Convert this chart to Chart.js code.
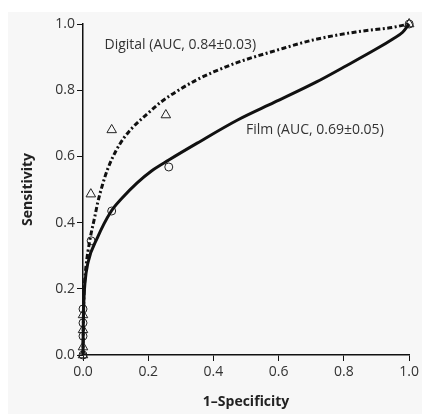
<!DOCTYPE html>
<html>
<head>
<meta charset="utf-8">
<script src="https://cdn.jsdelivr.net/npm/chart.js@4/dist/chart.umd.min.js"></script>
<style>
  html, body { margin: 0; padding: 0; background: #fff; }
  #box { position: absolute; left: 8px; top: 12px; width: 414px; height: 402px; background: #f7f7f7; }
</style>
</head>
<body>
<div id="box"><canvas id="chart" width="414" height="402"></canvas></div>
<script>
// fitted ROC curves
const digitalCurveX = [0, 0.002, 0.005, 0.009, 0.021, 0.036, 0.045, 0.06, 0.075, 0.1, 0.125, 0.15, 0.193, 0.24, 0.293, 0.35, 0.4, 0.474, 0.595, 0.707, 0.837, 0.95, 1];
const digitalCurveY = [0, 0.15, 0.22, 0.266, 0.347, 0.417, 0.46, 0.515, 0.56, 0.615, 0.655, 0.685, 0.725, 0.765, 0.80, 0.832, 0.855, 0.884, 0.921, 0.952, 0.976, 0.99, 1];
const filmCurveX = [0, 0.001, 0.003, 0.006, 0.015, 0.045, 0.085, 0.12, 0.166, 0.21, 0.263, 0.35, 0.474, 0.586, 0.716, 0.8, 0.9, 0.95, 0.98, 1];
const filmCurveY = [0, 0.1, 0.17, 0.218, 0.278, 0.356, 0.432, 0.474, 0.52, 0.556, 0.589, 0.64, 0.71, 0.763, 0.825, 0.87, 0.925, 0.955, 0.975, 1];

// observed operating points
const digitalPtsX = [0, 0, 0, 0, 0.024, 0.088, 0.254, 1];
const digitalPtsY = [0, 0.024, 0.076, 0.121, 0.486, 0.68, 0.725, 1];
const filmPtsX = [0, 0, 0, 0, 0.025, 0.088, 0.263, 1];
const filmPtsY = [0, 0.057, 0.097, 0.139, 0.345, 0.435, 0.568, 1];

const yTicks = [0, 0.2, 0.4, 0.6, 0.8, 1.0];
const xTicks = [0, 0.2, 0.4, 0.6, 0.8, 1.0];

const labels = [
  { text: "Digital (AUC, 0.84\u00b10.03)", x: 0.066, y: 0.937 },
  { text: "Film (AUC, 0.69\u00b10.05)", x: 0.5, y: 0.68 }
];

const zip = (xs, ys) => xs.map((x, i) => ({ x: x, y: ys[i] }));
const font = "'Open Sans', 'Noto Sans', sans-serif";
const ink = "#222";

const curveLabels = {
  id: "curveLabels",
  afterDatasetsDraw(chart) {
    const c = chart.ctx;
    const xs = chart.scales.x, ys = chart.scales.y;
    c.save();
    c.font = "14px " + font;
    c.fillStyle = "#333";
    c.textBaseline = "middle";
    labels.forEach(l => c.fillText(l.text, xs.getPixelForValue(l.x), ys.getPixelForValue(l.y)));
    c.restore();
  }
};

new Chart(document.getElementById("chart"), {
  type: "scatter",
  data: {
    datasets: [
      {
        data: zip(digitalCurveX, digitalCurveY),
        showLine: true, borderColor: "#111", borderWidth: 3,
        borderDash: [5, 2.5, 2, 2.5], pointRadius: 0,
        cubicInterpolationMode: "monotone", clip: false
      },
      {
        data: zip(filmCurveX, filmCurveY),
        showLine: true, borderColor: "#111", borderWidth: 3,
        pointRadius: 0, cubicInterpolationMode: "monotone", clip: false
      },
      {
        data: zip(digitalPtsX, digitalPtsY),
        pointStyle: "triangle", pointRadius: 5.5, borderColor: "#222",
        borderWidth: 1, backgroundColor: "rgba(0,0,0,0)", clip: false
      },
      {
        data: zip(filmPtsX, filmPtsY),
        pointStyle: "circle", pointRadius: 4, borderColor: "#222",
        borderWidth: 1, backgroundColor: "rgba(0,0,0,0)", clip: false
      }
    ]
  },
  options: {
    responsive: false,
    animation: false,
    layout: { padding: { left: 0, right: 8, top: 12, bottom: 0 } },
    plugins: { legend: { display: false }, tooltip: { enabled: false } },
    scales: {
      x: {
        min: 0, max: 1,
        afterBuildTicks: s => { s.ticks = xTicks.map(v => ({ value: v })); },
        afterFit: s => { s.height = 59; },
        border: { color: "#111", width: 1.5 },
        grid: { drawOnChartArea: false, drawTicks: true, tickLength: 6, color: "#111" },
        ticks: { color: "#333", font: { family: font, size: 14 }, padding: 3, callback: v => v.toFixed(1) },
        title: { display: true, text: "1\u2013Specificity", color: ink, font: { family: font, size: 14, weight: "bold" }, padding: { top: 3 } }
      },
      y: {
        min: 0, max: 1,
        afterBuildTicks: s => { s.ticks = yTicks.map(v => ({ value: v })); },
        afterFit: s => { s.width = 75; },
        border: { color: "#111", width: 1.5 },
        grid: { drawOnChartArea: false, drawTicks: true, tickLength: 6, color: "#111" },
        ticks: { color: "#333", font: { family: font, size: 14 }, padding: 2, callback: v => v.toFixed(1) },
        title: { display: true, text: "Sensitivity", color: ink, font: { family: font, size: 14, weight: "bold" }, padding: { top: 12, bottom: 0 } }
      }
    }
  },
  plugins: [curveLabels]
});
</script>
</body>
</html>
